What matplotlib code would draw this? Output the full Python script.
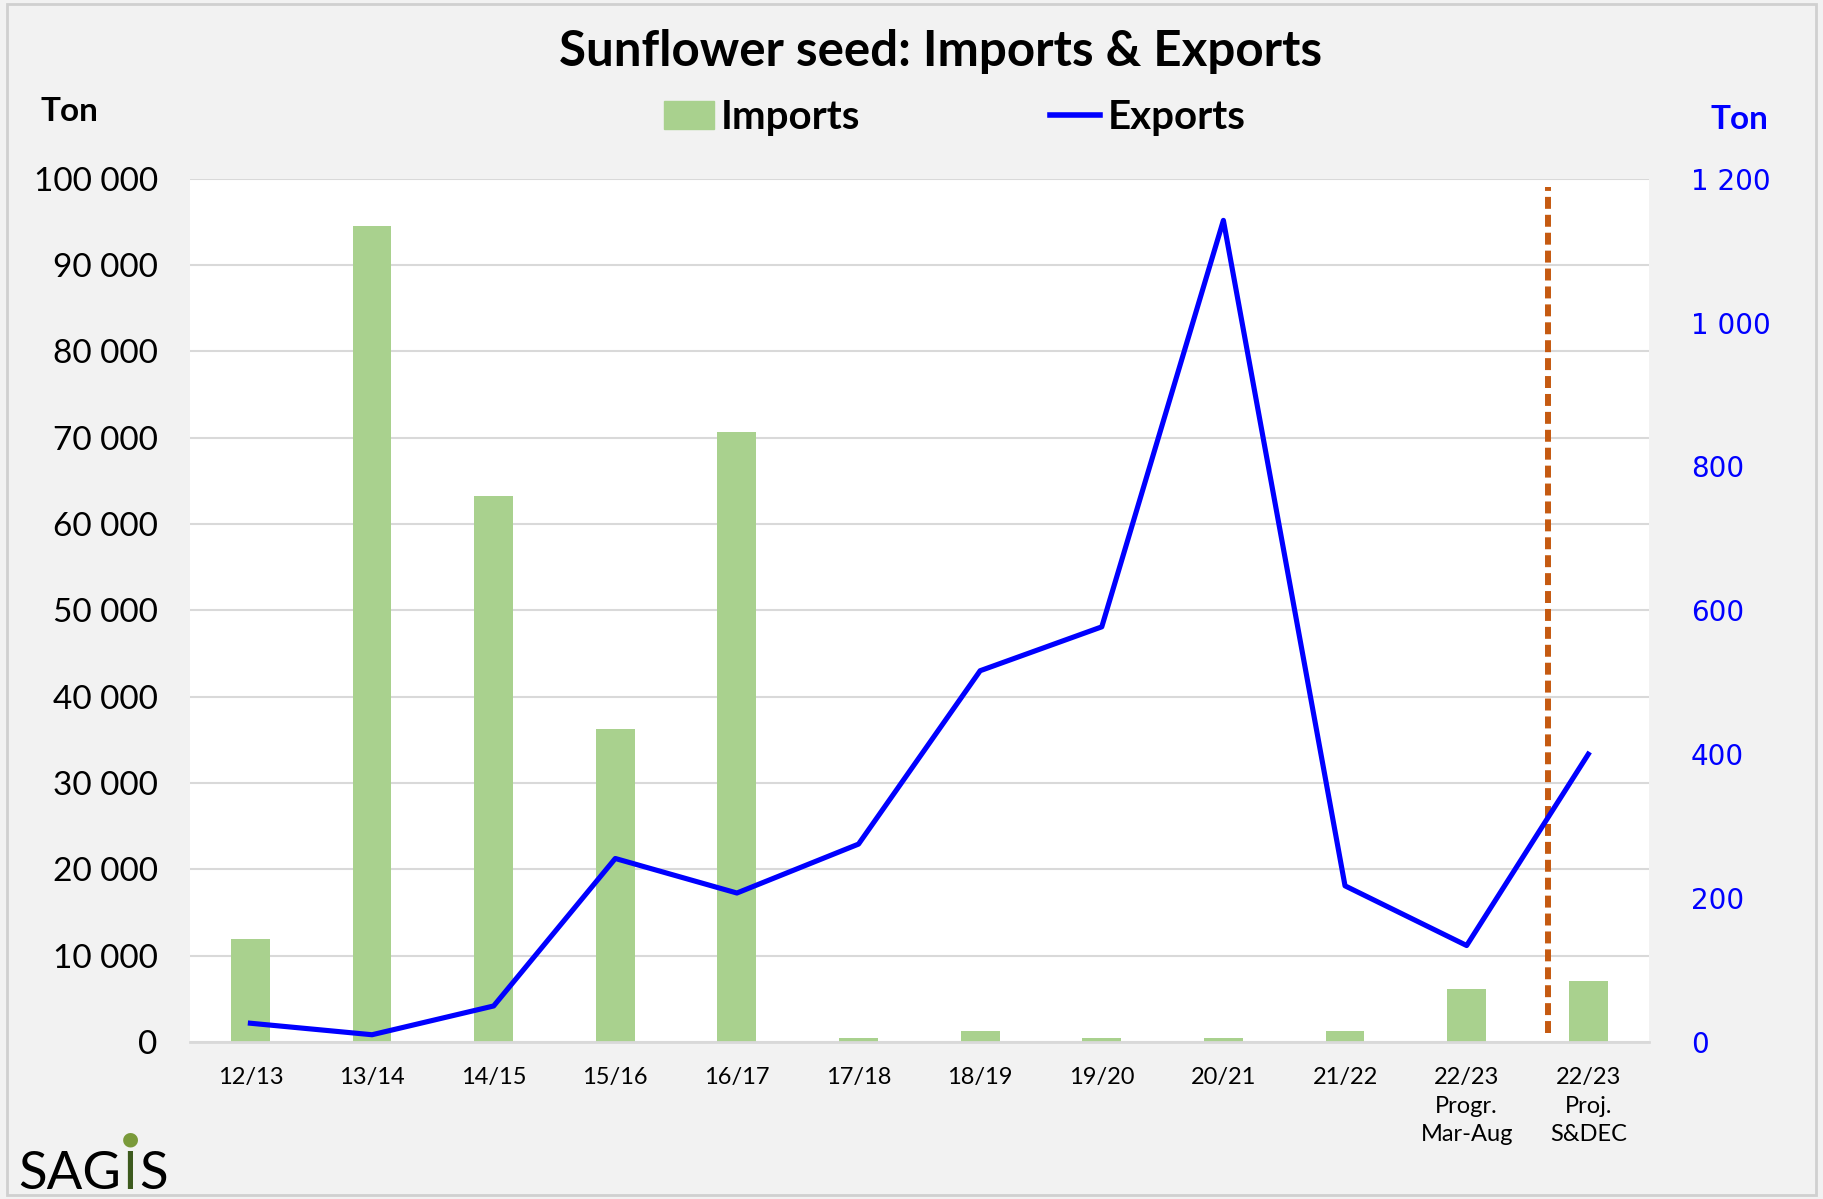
import numpy as np
import matplotlib.pyplot as plt
from matplotlib.patches import Rectangle
from matplotlib.lines import Line2D

seasons = ["12/13", "13/14", "14/15", "15/16", "16/17", "17/18", "18/19",
           "19/20", "20/21", "21/22", "22/23\nProgr.\nMar-Aug", "22/23\nProj.\nS&DEC"]
imports = [11900, 94500, 63200, 36200, 70600, 500, 1300, 500, 500, 1300, 6100, 7100]
exports = [26, 10, 50, 255, 207, 275, 516, 577, 1142, 217, 134, 400]
left_ticks = list(range(0, 100001, 10000))
right_ticks = list(range(0, 1201, 200))
split_at = 10.67

narrow = ["Lato", "DejaVu Sans"]
BG = "#F2F2F2"
GREEN = "#A9D18E"
BLUE = "#0000FF"
ORANGE = "#C55A11"

def fmt(v):
    return f"{v:,}".replace(",", " ")

fig = plt.figure(figsize=(18.23, 11.99), dpi=100, facecolor=BG)
fig.patches.append(Rectangle((0.004, 0.003), 0.992, 0.994, transform=fig.transFigure,
                             fill=False, edgecolor="#D0D0D0", lw=2))
ax = fig.add_axes([0.104, 0.131, 0.8006, 0.72])
ax.set_facecolor("white")
x = np.arange(len(seasons))

ax.bar(x, imports, width=0.32, color=GREEN, zorder=2)
ax.set_ylim(0, 100000)
ax.set_xlim(-0.5, len(seasons) - 0.5)
ax.set_yticks(left_ticks)
ax.set_yticklabels([fmt(v) for v in left_ticks], family=narrow, fontsize=24)
ax.set_xticks(x)
ax.set_xticklabels(seasons, family=narrow, fontsize=17, linespacing=1.45)
ax.tick_params(length=0)
ax.tick_params(axis="y", pad=23)
ax.tick_params(axis="x", pad=18)
ax.grid(axis="y", color="#D9D9D9", lw=1.5, zorder=0)
for s in ["top", "left", "right"]:
    ax.spines[s].set_visible(False)
ax.spines["bottom"].set_color("#D9D9D9")
ax.spines["bottom"].set_linewidth(2)

ax2 = ax.twinx()
ax2.plot(x, exports, color=BLUE, lw=3.7, zorder=4)
ax2.set_ylim(0, 1200)
ax2.set_yticks(right_ticks)
ax2.set_yticklabels([fmt(v) for v in right_ticks], color=BLUE, fontsize=20)
ax2.tick_params(length=0, pad=30)
for s in ax2.spines.values():
    s.set_visible(False)
ax2.axvline(split_at, ymin=0.01, ymax=0.99, color=ORANGE, lw=4.3, ls=(0, (2, 1)), zorder=3)

fig.text(0.5157, 0.945, "Sunflower seed: Imports & Exports", ha="center", va="baseline",
         fontsize=35.5, fontweight="bold", family=narrow)
fig.text(0.022, 0.907, "Ton", fontsize=24, fontweight="bold", family=narrow, va="center")
fig.text(0.954, 0.90, "Ton", fontsize=24, fontweight="bold", family=narrow, color=BLUE,
         ha="center", va="center")

handles = [Rectangle((0, 0), 1, 1, color=GREEN),
           Line2D([], [], color=BLUE, lw=4)]
fig.legend(handles, ["Imports", "Exports"], loc="center", bbox_to_anchor=(0.5236, 0.902),
           ncol=2, frameon=False, prop={"family": narrow, "weight": "bold", "size": 29},
           columnspacing=4.7, handlelength=1.25, handletextpad=0.18, borderpad=0)

# SAGIS logo, letters chained so they sit side by side
sag = fig.text(0.01, 0.008, "SAG", fontsize=38, family=narrow, color="black", va="baseline")
i_txt = plt.annotate("I", xy=(1, 0), xycoords=sag, xytext=(1, 0), textcoords="offset points",
                     fontsize=38, family=narrow, color="#3D5A1E", va="bottom",
                     annotation_clip=False)
plt.annotate("S", xy=(1, 0), xycoords=i_txt, xytext=(1, 0), textcoords="offset points",
             fontsize=38, family=narrow, color="black", va="bottom", annotation_clip=False)
plt.annotate("\u25CF", xy=(0.5, 1), xycoords=i_txt, xytext=(0, 2),
             textcoords="offset points", ha="center", va="bottom",
             fontsize=14, color="#7A9A3A", family="DejaVu Sans", annotation_clip=False)

fig.savefig("out.png", dpi=100, facecolor=BG)
